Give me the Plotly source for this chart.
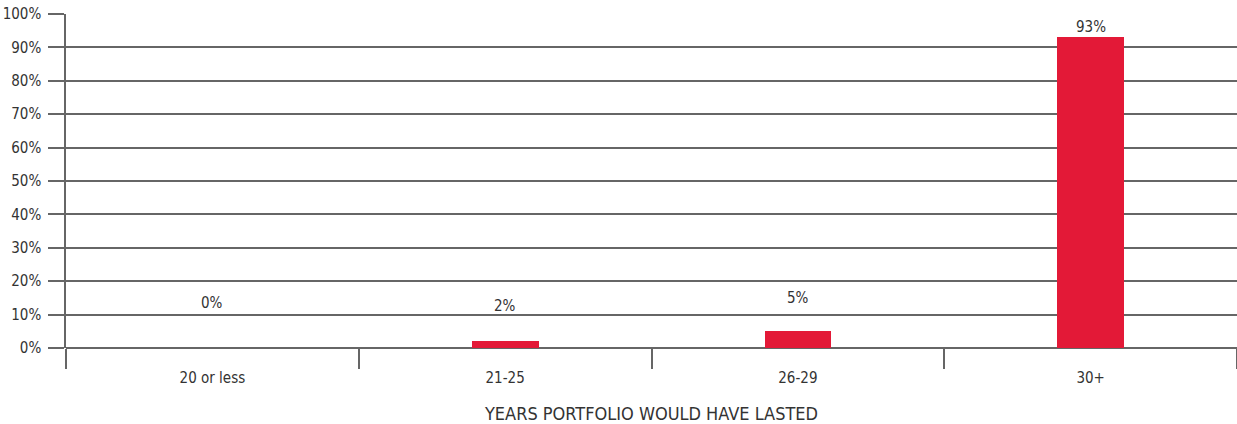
import plotly.graph_objects as go

# Share of historical periods by how long the portfolio would have lasted
categories = ["20 or less", "21-25", "26-29", "30+"]
shares = [0, 2, 5, 93]
value_labels = ["0%", "2%", "5%", "93%"]
y_tick_values = [0, 10, 20, 30, 40, 50, 60, 70, 80, 90, 100]
y_tick_labels = ["0%", "10%", "20%", "30%", "40%", "50%", "60%", "70%", "80%", "90%", "100%"]

# Pixel lift of each value label above its bar
label_lift = [45, 35, 33, 10]

FONT = "Liberation Sans Narrow, DejaVu Sans Condensed, Arial Narrow, sans-serif"
GRID = "#666666"
TEXT = "#333333"
RED = "#e31937"

fig = go.Figure(
    go.Bar(
        x=categories,
        y=shares,
        marker=dict(color=RED, line=dict(width=0)),
        width=0.228,
        hoverinfo="skip",
    )
)

for cat, val, lab, lift in zip(categories, shares, value_labels, label_lift):
    fig.add_annotation(
        x=cat, y=val, text=lab, showarrow=False,
        yanchor="middle", yshift=lift,
        font=dict(family=FONT, size=15, color=TEXT),
    )

fig.update_layout(
    width=1237,
    height=424,
    margin=dict(l=66, r=0, t=14, b=76),
    paper_bgcolor="white",
    plot_bgcolor="white",
    showlegend=False,
    bargap=0,
    font=dict(family=FONT, size=15, color=TEXT),
)

fig.update_yaxes(
    range=[0, 100],
    tickvals=y_tick_values,
    ticktext=y_tick_labels,
    showgrid=True,
    gridcolor=GRID,
    gridwidth=1.5,
    zeroline=True,
    zerolinecolor=GRID,
    zerolinewidth=1.5,
    showline=True,
    linecolor=GRID,
    linewidth=1.5,
    ticks="outside",
    ticklen=16,
    tickcolor=GRID,
    tickwidth=1.5,
    ticklabelstandoff=4,
    tickfont=dict(family=FONT, size=15, color=TEXT),
    fixedrange=True,
)

fig.update_xaxes(
    showgrid=False,
    showline=False,
    zeroline=False,
    ticks="outside",
    tickson="boundaries",
    ticklen=20,
    tickcolor=GRID,
    tickwidth=1.5,
    ticklabelstandoff=19,
    tickfont=dict(family=FONT, size=15, color=TEXT),
    title=dict(
        text="YEARS PORTFOLIO WOULD HAVE LASTED",
        font=dict(family=FONT, size=18, color=TEXT),
        standoff=22,
    ),
    fixedrange=True,
)

fig.write_html("out.html", config={"displayModeBar": False})
